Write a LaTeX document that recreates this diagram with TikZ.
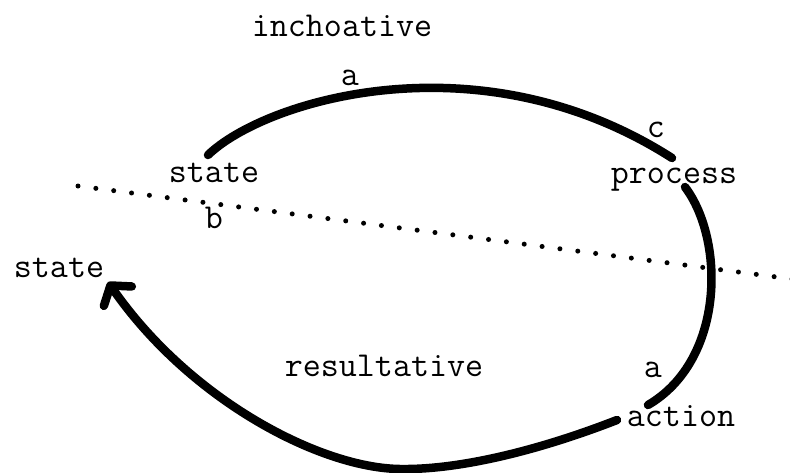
\documentclass[tikz,border=0pt]{standalone}
\usepackage{fontspec}
\usepackage{tikz}
\usetikzlibrary{arrows.meta}

\begin{document}
\begin{tikzpicture}[
    x=1pt,y=-1pt,
    lbl/.style={inner sep=0pt,anchor=base,font=\fontsize{35}{40}\selectfont\ttfamily\addfontfeatures{FakeBold=0.8}},
    arc/.style={line width=8.5pt,line cap=round,line join=round},
    flow/.style={arc,-{Straight Barb[length=13pt,width=34pt,round]}},
    dotline/.style={line width=5pt,line cap=round,dash pattern=on 0pt off 18pt}
  ]
    \useasboundingbox (0,0) rectangle (790,472);
    \node[lbl] (inch) at (342,36) {inchoative};
    \node[lbl] (atop) at (350,85) {a};
    \node[lbl] (stateup) at (214,182) {state};
    \node[lbl] (blab) at (214,228) {b};
    \node[lbl] (clab) at (656,137) {c};
    \node[lbl] (proc) at (674,183) {process};
    \node[lbl] (stateleft) at (59,277) {state};
    \node[lbl] (res) at (384,376) {resultative};
    \node[lbl] (alow) at (653,377) {a};
    \node[lbl] (act) at (681,426) {action};
    \coordinate (dl) at (78,186);
    \coordinate (dr) at (792,279);
    \draw[dotline] (dl) -- (dr);
    \draw[arc] ([shift={(-6,-27)}]stateup.base) .. controls (265,100) and (480,35) .. ([shift={(-2,-25)}]proc.base);
    \draw[arc] ([shift={(11,4)}]proc.base) .. controls (725,240) and (725,360) .. ([shift={(-33,-21)}]act.base);
    \draw[flow] ([shift={(-64,-6)}]act.base) .. controls (540,450) and (460,470) .. (400,469)
      .. controls (320,468) and (190,400) .. ([shift={(49,5)}]stateleft.base);
  \end{tikzpicture}
\end{document}
